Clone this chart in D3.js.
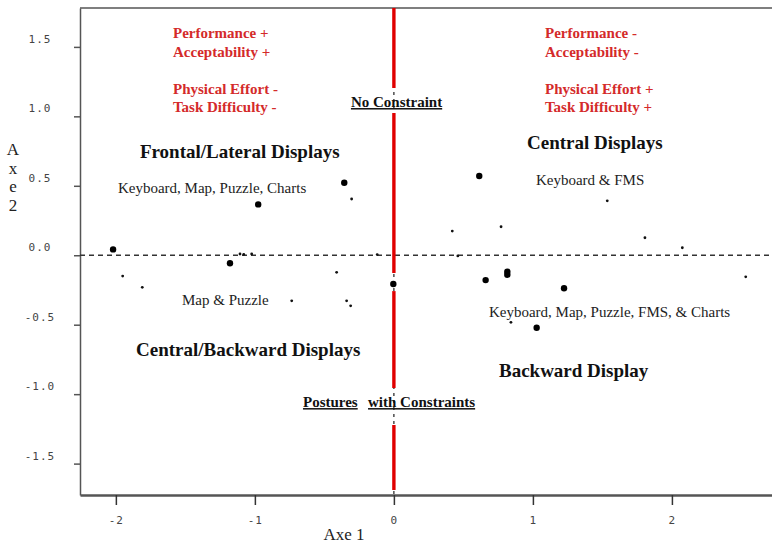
<!DOCTYPE html>
<html>
<head>
<meta charset="utf-8">
<script src="https://cdn.jsdelivr.net/npm/d3@7"></script>
<style>
  body { margin: 0; background: #fff; }
  .serif { font-family: "Liberation Serif", "Times New Roman", serif; }
  .tick text { font-family: "DejaVu Sans Mono", monospace; font-size: 11px; fill: #444; letter-spacing: 1px; }
</style>
</head>
<body>
<script>
// factor map, axes 1 and 2
var bigPoints = [
    [-2.02, 0.042], [-0.976, 0.366], [-0.357, 0.522], [-1.179, -0.058],
    [-0.004, -0.207], [0.614, 0.570], [0.660, -0.179], [0.816, -0.118],
    [0.816, -0.140], [1.224, -0.238], [1.027, -0.522]
];
var smallPoints = [
    [-0.304, 0.405], [-1.951, -0.150], [-1.810, -0.231], [-0.735, -0.328],
    [-0.412, -0.123], [-0.340, -0.328], [-0.311, -0.364], [-1.023, 0.009],
    [-1.107, 0.009], [-1.08, 0.006], [0.420, 0.174], [0.771, 0.205], [1.535, 0.392],
    [1.806, 0.126], [2.075, 0.054], [2.531, -0.155], [0.842, -0.483],
    [-0.12, 0.005], [0.46, -0.005]
];
var xTicks = [-2, -1, 0, 1, 2];
var yTicks = [-1.5, -1.0, -0.5, 0.0, 0.5, 1.0, 1.5];

// red line at axe 1 = 0, broken where the labels sit
var redSegments = [[1.78, 1.204], [1.024, -0.128], [-0.258, -0.956], [-1.222, -1.69]];

var redLeft = ["Performance +", "Acceptability +", "", "Physical Effort -", "Task Difficulty -"];
var redRight = ["Performance -", "Acceptability -", "", "Physical Effort +", "Task Difficulty +"];

var groupLabels = [
    {text: "Frontal/Lateral Displays", x: -1.827, y: 0.700},
    {text: "Central Displays", x: 0.958, y: 0.765},
    {text: "Central/Backward Displays", x: -1.855, y: -0.725},
    {text: "Backward Display", x: 0.756, y: -0.877}
];
var taskLabels = [
    {text: "Keyboard, Map, Puzzle, Charts", x: -1.985, y: 0.448},
    {text: "Keyboard & FMS", x: 1.022, y: 0.505},
    {text: "Map & Puzzle", x: -1.524, y: -0.359},
    {text: "Keyboard, Map, Puzzle, FMS, & Charts", x: 0.684, y: -0.445}
];

var width = 772;
var height = 545;

var svg = d3.select("body")
    .append("svg")
        .attr("width", width)
        .attr("height", height);

var x = d3.scaleLinear().domain([-2.258, 2.72]).range([80, 772]);
var y = d3.scaleLinear().domain([-1.726, 1.78]).range([495, 8]);

// top frame line
svg.append("line")
    .attr("x1", 80).attr("x2", width)
    .attr("y1", y(1.78)).attr("y2", y(1.78))
    .attr("stroke", "#555").attr("stroke-width", 1.5);

var leftAxis = d3.axisLeft(y).tickValues(yTicks).tickSize(6).tickSizeOuter(0)
    .tickFormat((d) => { return d.toFixed(1); });
var yAxisGroup = svg.append("g")
    .attr("transform", "translate(80, 0)")
    .call(leftAxis);
yAxisGroup.select(".domain").attr("stroke", "#555").attr("stroke-width", 1.5);
yAxisGroup.selectAll(".tick line").attr("stroke", "#555").attr("stroke-width", 1.5);
yAxisGroup.selectAll(".tick text")
    .attr("x", -40)
    .attr("y", -8)
    .attr("text-anchor", "middle");

var bottomAxis = d3.axisBottom(x).tickValues(xTicks).tickSize(10).tickSizeOuter(0)
    .tickFormat((d) => { return String(d); });
var xAxisGroup = svg.append("g")
    .attr("transform", "translate(0, 495)")
    .call(bottomAxis);
xAxisGroup.select(".domain").attr("stroke", "#555").attr("stroke-width", 2.5);
xAxisGroup.selectAll(".tick line").attr("stroke", "#333").attr("stroke-width", 1.5);
xAxisGroup.selectAll(".tick text").attr("y", 21);

// dashed reference lines
svg.append("line")
    .attr("x1", 80).attr("x2", width)
    .attr("y1", y(0)).attr("y2", y(0))
    .attr("stroke", "#333").attr("stroke-width", 1.6)
    .attr("stroke-dasharray", "5,4");

svg.append("line")
    .attr("x1", x(0)).attr("x2", x(0))
    .attr("y1", y(1.78)).attr("y2", y(-1.726))
    .attr("stroke", "#222").attr("stroke-width", 1.2)
    .attr("stroke-dasharray", "3,4");

svg.selectAll("line.red")
    .data(redSegments)
    .enter().append("line")
        .attr("class", "red")
        .attr("x1", x(0)).attr("x2", x(0))
        .attr("y1", (d) => { return y(d[0]); })
        .attr("y2", (d) => { return y(d[1]); })
        .attr("stroke", "#e00000")
        .attr("stroke-width", 3.4);

// points
svg.selectAll("circle.small")
    .data(smallPoints)
    .enter().append("circle")
        .attr("class", "small")
        .attr("cx", (d) => { return x(d[0]); })
        .attr("cy", (d) => { return y(d[1]); })
        .attr("r", 1.4)
        .attr("fill", "#111");

svg.selectAll("circle.big")
    .data(bigPoints)
    .enter().append("circle")
        .attr("class", "big")
        .attr("cx", (d) => { return x(d[0]); })
        .attr("cy", (d) => { return y(d[1]); })
        .attr("r", 3.2)
        .attr("fill", "#000");

// red quadrant notes
function redBlock(lines, x0) {
    svg.selectAll(null)
        .data(lines)
        .enter().append("text")
            .attr("class", "serif")
            .attr("x", x(x0))
            .attr("y", (d, i) => { return y(1.564) + i * 18.5; })
            .attr("font-size", "15px")
            .attr("font-weight", "bold")
            .attr("fill", "#d42a2a")
            .text((d) => { return d; });
}
redBlock(redLeft, -1.589);
redBlock(redRight, 1.087);

svg.selectAll(null)
    .data(groupLabels)
    .enter().append("text")
        .attr("class", "serif")
        .attr("x", (d) => { return x(d.x); })
        .attr("y", (d) => { return y(d.y); })
        .attr("font-size", "19px")
        .attr("font-weight", "bold")
        .attr("fill", "#111")
        .text((d) => { return d.text; });

svg.selectAll(null)
    .data(taskLabels)
    .enter().append("text")
        .attr("class", "serif")
        .attr("x", (d) => { return x(d.x); })
        .attr("y", (d) => { return y(d.y); })
        .attr("font-size", "15px")
        .attr("fill", "#222")
        .text((d) => { return d.text; });

// underlined posture labels
var postureLabels = [
    {text: "No Constraint", x: -0.309, y: 1.067},
    {text: "Postures", x: -0.654, y: -1.093},
    {text: "with Constraints", x: -0.186, y: -1.093}
];
svg.selectAll(null)
    .data(postureLabels)
    .enter().append("text")
        .attr("class", "serif")
        .attr("x", (d) => { return x(d.x); })
        .attr("y", (d) => { return y(d.y); })
        .attr("font-size", "15px")
        .attr("font-weight", "bold")
        .attr("fill", "#111")
        .style("text-decoration", "underline")
        .text((d) => { return d.text; });

// axis titles
svg.append("text")
    .attr("class", "serif")
    .attr("x", 344)
    .attr("y", 540)
    .attr("font-size", "17px")
    .attr("text-anchor", "middle")
    .attr("fill", "#222")
    .text("Axe 1");

svg.selectAll(null)
    .data(["A", "x", "e", "2"])
    .enter().append("text")
        .attr("class", "serif")
        .attr("x", 13)
        .attr("y", (d, i) => { return 155 + i * 18.5; })
        .attr("font-size", "17px")
        .attr("text-anchor", "middle")
        .attr("fill", "#222")
        .text((d) => { return d; });
</script>
</body>
</html>
